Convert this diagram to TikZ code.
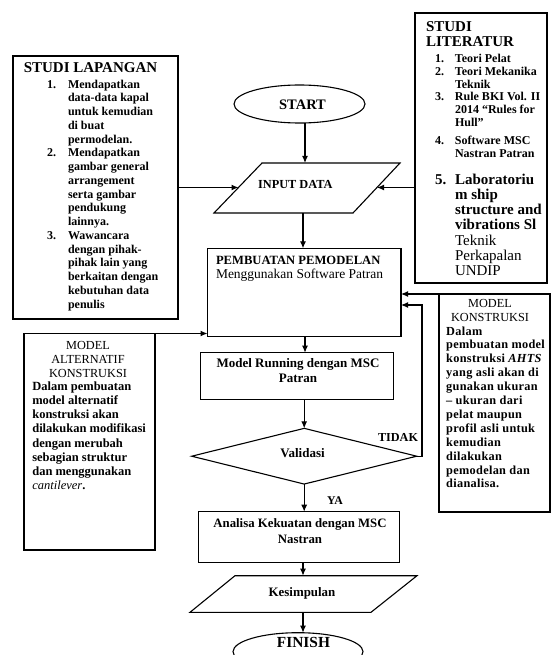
\documentclass[tikz,border=0pt]{standalone}
\usepackage{fontspec}
\setmainfont{Liberation Serif}
\newfontfamily\mkfont[LetterSpace=2.5]{Liberation Serif}
\usetikzlibrary{shapes.geometric,arrows.meta}
\begin{document}
\begin{tikzpicture}[x=1pt,y=-1pt,
  box/.style={draw,line width=1.1pt,rectangle,inner sep=0pt,outer sep=0pt},
  conn/.style={draw,line width=1.1pt,-{Latex[length=7pt,width=6pt]}},
  link/.style={draw,line width=1.1pt,line join=miter},
  lbl/.style={inner sep=0pt,outer sep=0pt},
  blk/.style={inner sep=0pt,outer sep=0pt,align=left,anchor=north west},
  cblk/.style={inner sep=0pt,outer sep=0pt,align=center,anchor=north}]
\useasboundingbox (0,0) rectangle (552,655);
\clip (0,0) rectangle (552,655);

% ---------- helper coordinates ----------
\coordinate (cA) at (305,0);
\coordinate (cB) at (303,0);
\coordinate (inNW) at (262,163);
\coordinate (inNE) at (400,163);
\coordinate (inSE) at (353,213);
\coordinate (inSW) at (214,213);
\coordinate (inL) at (238.5,187.5);
\coordinate (inR) at (377,187.5);
\coordinate (kNW) at (235,575.7);
\coordinate (kNE) at (417,575.7);
\coordinate (kSE) at (371,612.3);
\coordinate (kSW) at (190,612.3);
\coordinate (loopx) at (422,0);
\coordinate (r2) at (0,305);

% ---------- shapes ----------
\node[box,minimum width=165pt,minimum height=263pt] (lap) at (95.5,187.5) {};
\node[box,minimum width=132pt,minimum height=270pt] (lit) at (481,148) {};
\node[draw,line width=1.1pt,ellipse,inner sep=0pt,outer sep=0pt,minimum width=131pt,minimum height=38pt] (start) at (299.5,104) {};
\draw[link] (inNW) -- (inNE) -- (inSE) -- (inSW) -- cycle;
\node[box,minimum width=193.5pt,minimum height=88.2pt] (pemb) at (304.25,292.4) {};
\node[box,minimum width=192.6pt,minimum height=46.6pt] (mr) at (297,376) {};
\node[draw,line width=1.1pt,diamond,inner sep=0pt,outer sep=0pt,aspect=4,minimum width=225pt,minimum height=55.7pt] (dia) at (304.2,456.2) {};
\node[box,minimum width=200.7pt,minimum height=51pt] (an) at (298.7,537.2) {};
\draw[link] (kNW) -- (kNE) -- (kSE) -- (kSW) -- cycle;
\node[draw,line width=1.1pt,ellipse,inner sep=0pt,outer sep=0pt,minimum width=130pt,minimum height=38pt] (finish) at (298,651.7) {};
\node[box,minimum width=131pt,minimum height=216.5pt] (ma) at (89.5,441.75) {};
\node[box,minimum width=111pt,minimum height=218pt] (mk) at (494.5,403) {};

% ---------- texts ----------
\node[lbl,anchor=base,font=\fontsize{15}{15}\selectfont\bfseries] (lapH) at (90.5,73) {STUDI LAPANGAN};
\node[blk,font=\fontsize{12}{13.75}\selectfont\bfseries] (lapL) at (47,78.4) {%
\strut\makebox[21pt][l]{1.}Mendapatkan\\
\hspace*{21pt}data-data kapal\\
\hspace*{21pt}untuk kemudian\\
\hspace*{21pt}di buat\\
\hspace*{21pt}permodelan.\\
\makebox[21pt][l]{2.}Mendapatkan\\
\hspace*{21pt}gambar general\\
\hspace*{21pt}arrangement\\
\hspace*{21pt}serta gambar\\
\hspace*{21pt}pendukung\\
\hspace*{21pt}lainnya.\\
\makebox[21pt][l]{3.}Wawancara\\
\hspace*{21pt}dengan pihak-\\
\hspace*{21pt}pihak lain yang\\
\hspace*{21pt}berkaitan dengan\\
\hspace*{21pt}kebutuhan data\\
\hspace*{21pt}penulis};

\node[blk,font=\fontsize{15}{15}\selectfont\bfseries] (litH) at (426,21.2) {\strut STUDI\\LITERATUR};
\node[blk,font=\fontsize{12}{12.8}\selectfont\bfseries] (litL) at (435,53.5) {%
\strut\makebox[20pt][l]{1.}Teori Pelat\\
\makebox[20pt][l]{2.}Teori Mekanika\\
\hspace*{20pt}Teknik\\
\makebox[20pt][l]{3.}Rule BKI Vol. II\\
\hspace*{20pt}2014 “Rules for\\
\hspace*{20pt}Hull”\\[5pt]
\makebox[20pt][l]{4.}Software MSC\\
\hspace*{20pt}Nastran Patran};
\node[blk,font=\fontsize{15}{15.3}\selectfont\bfseries] (lit5) at (435,173.3) {%
\strut\makebox[20pt][l]{5.}Laboratoriu\\
\hspace*{20pt}m ship\\
\hspace*{20pt}structure and\\
\hspace*{20pt}vibrations Sl\\
\hspace*{20pt}{\mdseries Teknik}\\
\hspace*{20pt}{\mdseries Perkapalan}\\
\hspace*{20pt}{\mdseries UNDIP}};

\node[lbl,anchor=base,font=\fontsize{14.5}{15}\selectfont\bfseries] (startT) at (302.5,109.3) {START};
\node[lbl,anchor=base,font=\fontsize{12.3}{14}\selectfont\bfseries] (inT) at (295.3,188.3) {INPUT DATA};
\node[lbl,anchor=base west,font=\fontsize{12.6}{14}\selectfont\bfseries] (pembT1) at (216,264.3) {PEMBUATAN PEMODELAN};
\node[lbl,anchor=base west,font=\fontsize{13.5}{14}\selectfont] (pembT2) at (216,278.3) {Menggunakan Software Patran};
\node[cblk,font=\fontsize{13}{15}\selectfont\bfseries] (mrT) at (298,357.2) {\strut Model Running dengan MSC\\Patran};
\node[lbl,anchor=base,font=\fontsize{13}{15}\selectfont\bfseries] (diaT) at (302.5,457) {Validasi};
\node[lbl,anchor=base west,font=\fontsize{12.2}{14}\selectfont\bfseries] (tidak) at (378,441.7) {TIDAK};
\node[lbl,anchor=base west,font=\fontsize{11.8}{14}\selectfont\bfseries] (ya) at (327,504) {YA};
\node[cblk,font=\fontsize{12.8}{15.6}\selectfont\bfseries] (anT) at (300,516.8) {\strut Analisa Kekuatan dengan MSC\\Nastran};
\node[lbl,anchor=base,font=\fontsize{12.9}{14}\selectfont\bfseries] (kesT) at (302,596) {Kesimpulan};
\node[lbl,anchor=base,font=\fontsize{15.4}{16}\selectfont\bfseries] (finT) at (303.5,647.3) {FINISH};

\node[cblk,font=\fontsize{12.3}{14}\selectfont] (maH) at (88,339.5) {\strut MODEL\\ALTERNATIF\\KONSTRUKSI};
\node[blk,font=\fontsize{12.5}{14.1}\selectfont\bfseries] (maB) at (32.3,380.8) {%
\strut Dalam pembuatan\\
model alternatif\\
konstruksi akan\\
dilakukan modifikasi\\
dengan merubah\\
sebagian struktur\\
dan menggunakan\\
{\mdseries\itshape cantilever}.};

\node[cblk,font=\fontsize{12.3}{13.5}\selectfont] (mkH) at (490,298.5) {\strut MODEL\\KONSTRUKSI};
\node[blk,font=\fontsize{12.3}{13.9}\selectfont\mkfont\bfseries] (mkB) at (446.2,325.3) {%
\strut Dalam\\
pembuatan model\\
konstruksi {\itshape AHTS}\\
yang asli akan di\\
gunakan ukuran\\
– ukuran dari\\
pelat maupun\\
profil asli untuk\\
kemudian\\
dilakukan\\
pemodelan dan\\
dianalisa.};

% ---------- connectors ----------
\draw[conn] (lap.east |- inL) -- (inL);
\draw[conn] (lit.west |- inR) -- (inR);
\draw[conn] (start.south -| cA) -- (cA |- inNW);
\draw[conn] (cB |- inSW) -- (pemb.north -| cB);
\draw[conn] (mk.north west) -- (pemb.east |- mk.north west);
\draw[conn] (dia.east) -- (dia.east -| loopx) -- (loopx |- r2) -- (pemb.east |- r2);
\draw[conn] (ma.north east) -- (pemb.west |- ma.north east);
\draw[conn] (pemb.south -| cA) -- (mr.north -| cA);
\draw[conn] (mr.south -| dia.north) -- (dia.north);
\draw[conn] (dia.south) -- (an.north -| dia.south);
\draw[conn] (an.south -| cB) -- (cB |- kNW);
\draw[conn] (cB |- kSW) -- (finish.north -| cB);
\end{tikzpicture}
\end{document}
